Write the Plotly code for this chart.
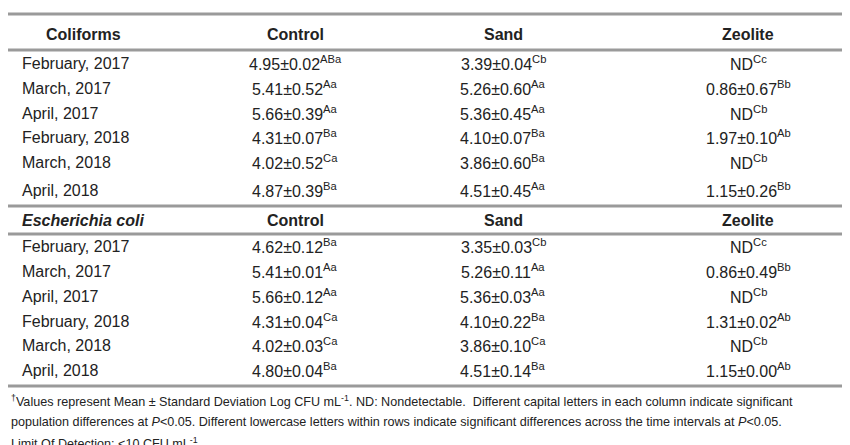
import plotly.graph_objects as go

months = ["February, 2017", "March, 2017", "April, 2017", "February, 2018", "March, 2018", "April, 2018"]
columns = ["Control", "Sand", "Zeolite"]

# Coliforms
col_control_mean = [4.95, 5.41, 5.66, 4.31, 4.02, 4.87]
col_control_sd = [0.02, 0.52, 0.39, 0.07, 0.52, 0.39]
col_control_sig = ["ABa", "Aa", "Aa", "Ba", "Ca", "Ba"]
col_sand_mean = [3.39, 5.26, 5.36, 4.10, 3.86, 4.51]
col_sand_sd = [0.04, 0.60, 0.45, 0.07, 0.60, 0.45]
col_sand_sig = ["Cb", "Aa", "Aa", "Ba", "Ba", "Aa"]
col_zeo_mean = [None, 0.86, None, 1.97, None, 1.15]
col_zeo_sd = [None, 0.67, None, 0.10, None, 0.26]
col_zeo_sig = ["Cc", "Bb", "Cb", "Ab", "Cb", "Bb"]

# E. coli
eco_control_mean = [4.62, 5.41, 5.66, 4.31, 4.02, 4.80]
eco_control_sd = [0.12, 0.01, 0.12, 0.04, 0.03, 0.04]
eco_control_sig = ["Ba", "Aa", "Aa", "Ca", "Ca", "Ba"]
eco_sand_mean = [3.35, 5.26, 5.36, 4.10, 3.86, 4.51]
eco_sand_sd = [0.03, 0.11, 0.03, 0.22, 0.10, 0.14]
eco_sand_sig = ["Cb", "Aa", "Aa", "Ba", "Ca", "Ba"]
eco_zeo_mean = [None, 0.86, None, 1.31, None, 1.15]
eco_zeo_sd = [None, 0.49, None, 0.02, None, 0.00]
eco_zeo_sig = ["Cc", "Bb", "Cb", "Ab", "Cb", "Ab"]

FONT = "Liberation Sans Narrow, Arial Narrow, Liberation Sans, sans-serif"
TXT = "#222222"
LINE = "#9a9a9a"
DX, DY = -8, -7

def cell(m, s, g):
    base = "ND" if m is None else f"{m:.2f}±{s:.2f}"
    return f"{base}<sup>{g}</sup>"

ann = []
shapes = []
def txt(x, y, t, anchor="center", size=16, bold=False, italic=False):
    if bold:
        t = f"<b>{t}</b>"
    if italic:
        t = f"<i>{t}</i>"
    ann.append(dict(x=x + DX, y=y + DY, xref="x", yref="y", text=t, showarrow=False,
                    xanchor=anchor, yanchor="middle",
                    font=dict(family=FONT, size=size, color=TXT)))
def hline(y, w=3):
    shapes.append(dict(type="line", xref="x", yref="y", x0=0 + DX, x1=858 + DX, y0=y + DY, y1=y + DY,
                       line=dict(color=LINE, width=w)))

col_x = [295, 503, 748]

def section(title, italic, y_head, row_ys, data):
    txt(83, y_head, title, bold=True, italic=italic)
    for cx, c in zip(col_x, columns):
        txt(cx, y_head, c, bold=True)
    for i, y in enumerate(row_ys):
        txt(20, y, months[i], anchor="left")
        for cx, (m, s, g) in zip(col_x, data):
            txt(cx, y, cell(m[i], s[i], g[i]))

hline(13)
hline(49)
section("Coliforms", False, 33, [62, 87, 112, 136, 161, 189],
        [(col_control_mean, col_control_sd, col_control_sig),
         (col_sand_mean, col_sand_sd, col_sand_sig),
         (col_zeo_mean, col_zeo_sd, col_zeo_sig)])
hline(205)
hline(233)
section("Escherichia coli", True, 219, [245, 270, 295, 320, 344, 369],
        [(eco_control_mean, eco_control_sd, eco_control_sig),
         (eco_sand_mean, eco_sand_sd, eco_sand_sig),
         (eco_zeo_mean, eco_zeo_sd, eco_zeo_sig)])
hline(385)

foot = [
    "<sup>†</sup>Values represent Mean ± Standard Deviation Log CFU mL<sup>-1</sup>. ND: Nondetectable.  Different capital letters in each column indicate significant",
    "population differences at <i>P</i><0.05. Different lowercase letters within rows indicate significant differences across the time intervals at <i>P</i><0.05.",
    "Limit Of Detection: <10 CFU mL<sup>-1</sup>.",
]
for y, t in zip([400, 421, 442], foot):
    txt(9, y, t, anchor="left", size=12.6)

fig = go.Figure()
fig.update_layout(width=850, height=445, margin=dict(l=0, r=0, t=0, b=0),
                  paper_bgcolor="white", plot_bgcolor="white",
                  xaxis=dict(range=[0, 850], visible=False, fixedrange=True),
                  yaxis=dict(range=[445, 0], visible=False, fixedrange=True),
                  annotations=ann, shapes=shapes, showlegend=False)
fig.write_html("out.html")
